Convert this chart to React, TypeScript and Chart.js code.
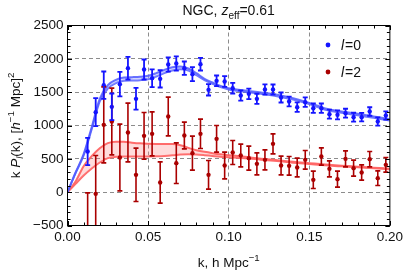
import React, { useEffect, useRef } from "react";
import { Chart, registerables } from "chart.js";
Chart.register(...registerables);

// ---------- data ----------
const kBins = [0.0125, 0.0175, 0.0225, 0.0275, 0.0325, 0.0375, 0.0425, 0.0475, 0.0525, 0.0575,
  0.0625, 0.0675, 0.0725, 0.0775, 0.0825, 0.0875, 0.0925, 0.0975, 0.1025, 0.1075,
  0.1125, 0.1175, 0.1225, 0.1275, 0.1325, 0.1375, 0.1425, 0.1475, 0.1525, 0.1575,
  0.1625, 0.1675, 0.1725, 0.1775, 0.1825, 0.1875, 0.1925, 0.1975];

const monoVals = [610, 1200, 1605, 1280, 1620, 1860, 1400, 1840, 1710, 1700,
  1915, 1930, 1860, 1770, 1920, 1535, 1670, 1660, 1560, 1450,
  1475, 1400, 1540, 1540, 1420, 1360, 1275, 1350, 1260, 1260,
  1170, 1160, 1185, 1125, 1125, 1210, 1060, 1150];
const monoErrs = [205, 210, 205, 200, 183, 170, 163, 150, 133, 130,
  108, 108, 100, 105, 95, 85, 80, 80, 80, 78,
  78, 76, 76, 75, 75, 73, 72, 72, 70, 70,
  68, 68, 66, 66, 64, 64, 62, 62];

const quadVals = [-650, -25, 1010, 1060, 520, 895, 260, 845, 875, 145,
  1135, 435, 850, 585, 875, 260, 800, 400, 595, 550,
  510, 425, 485, 725, 400, 395, 370, 485, 185, 535,
  350, 195, 500, 360, 295, 495, 210, 410];
const quadErrs = [640, 575, 570, 500, 500, 440, 400, 350, 330, 310,
  290, 305, 200, 255, 220, 215, 200, 200, 180, 170,
  180, 165, 150, 150, 140, 140, 140, 140, 130, 130,
  120, 120, 120, 120, 115, 115, 110, 110];

const modelK = [0, 0.005, 0.01, 0.015, 0.02, 0.025, 0.03, 0.035, 0.04, 0.045, 0.05,
  0.055, 0.06, 0.065, 0.07, 0.075, 0.08, 0.085, 0.09, 0.095, 0.1,
  0.11, 0.12, 0.13, 0.14, 0.15, 0.16, 0.17, 0.18, 0.19, 0.2];
const monoModelUpper = [0, 295, 570, 975, 1400, 1605, 1685, 1720, 1725, 1730, 1745,
  1785, 1835, 1875, 1885, 1855, 1785, 1700, 1645, 1595, 1560,
  1525, 1495, 1460, 1410, 1340, 1255, 1210, 1175, 1135, 1095];
const monoModelLower = [0, 285, 550, 945, 1360, 1555, 1635, 1670, 1675, 1680, 1695,
  1735, 1785, 1825, 1845, 1825, 1755, 1680, 1625, 1575, 1540,
  1505, 1475, 1440, 1390, 1320, 1235, 1190, 1155, 1115, 1075];
const quadModelUpper = [0, 160, 390, 540, 660, 735, 757, 755, 742, 732, 727,
  724, 722, 721, 705, 665, 630, 605, 585, 568, 555,
  530, 502, 480, 455, 435, 415, 398, 383, 368, 352];
const quadModelLower = [0, 125, 250, 355, 445, 510, 530, 535, 535, 535, 535,
  537, 542, 552, 565, 570, 565, 555, 543, 532, 525,
  510, 488, 467, 443, 423, 403, 387, 372, 357, 342];

const xTicks = [0, 0.05, 0.1, 0.15, 0.2];
const yTicks = [-500, 0, 500, 1000, 1500, 2000, 2500];
const xMinorStep = 0.01;
const yMinorStep = 100;

// ---------- styles ----------
const FONT = "'Liberation Sans', Arial, sans-serif";
const FS = 13.5;
const BLUE = "#1414ff";
const RED = "#aa0000";

type Part = { t: string; it?: boolean; sub?: boolean; sup?: boolean };

function drawRich(ctx: CanvasRenderingContext2D, parts: Part[], x: number, y: number, size: number) {
  const fontFor = (p: Part) => {
    const s = p.sub || p.sup ? size * 0.72 : size;
    return `${p.it ? "italic " : ""}${s}px ${FONT}`;
  };
  let total = 0;
  const widths = parts.map((p) => {
    ctx.font = fontFor(p);
    const w = ctx.measureText(p.t).width;
    total += w;
    return w;
  });
  let cx = x - total / 2;
  ctx.textAlign = "left";
  ctx.textBaseline = "alphabetic";
  parts.forEach((p, i) => {
    ctx.font = fontFor(p);
    const dy = p.sub ? size * 0.25 : p.sup ? -size * 0.42 : 0;
    ctx.fillText(p.t, cx, y + dy);
    cx += widths[i];
  });
}

const decorPlugin = {
  id: "decor",
  afterDatasetsDraw(chart: any) {
    const { ctx, chartArea: a, scales } = chart;
    const xs = scales.x, ys = scales.y;
    const bars = (vals: number[], errs: number[], color: string, lw: number) => {
      ctx.save();
      ctx.beginPath();
      ctx.rect(a.left, a.top, a.right - a.left, a.bottom - a.top);
      ctx.clip();
      ctx.strokeStyle = color;
      ctx.lineWidth = lw;
      for (let i = 0; i < kBins.length; i++) {
        const px = xs.getPixelForValue(kBins[i]);
        const y1 = ys.getPixelForValue(vals[i] + errs[i]);
        const y2 = ys.getPixelForValue(vals[i] - errs[i]);
        ctx.beginPath();
        ctx.moveTo(px, y1); ctx.lineTo(px, y2);
        ctx.moveTo(px - 2.5, y1); ctx.lineTo(px + 2.5, y1);
        ctx.moveTo(px - 2.5, y2); ctx.lineTo(px + 2.5, y2);
        ctx.stroke();
      }
      ctx.restore();
    };
    bars(quadVals, quadErrs, RED, 1.6);
    bars(monoVals, monoErrs, BLUE, 1.8);
  },
  afterDraw(chart: any) {
    const { ctx, chartArea: a, scales } = chart;
    const xs = scales.x, ys = scales.y;
    ctx.save();
    // frame
    ctx.strokeStyle = "#000";
    ctx.lineWidth = 1;
    ctx.strokeRect(a.left, a.top, a.right - a.left, a.bottom - a.top);
    // ticks inward
    ctx.beginPath();
    const nx = Math.round((xs.max - xs.min) / xMinorStep);
    for (let i = 0; i <= nx; i++) {
      const v = xs.min + i * xMinorStep;
      const px = Math.round(xs.getPixelForValue(v)) + 0.5;
      const len = i % 5 === 0 ? 4.5 : 3;
      ctx.moveTo(px, a.bottom); ctx.lineTo(px, a.bottom - len);
      ctx.moveTo(px, a.top); ctx.lineTo(px, a.top + len);
    }
    const ny = Math.round((ys.max - ys.min) / yMinorStep);
    for (let i = 0; i <= ny; i++) {
      const v = ys.min + i * yMinorStep;
      const py = Math.round(ys.getPixelForValue(v)) + 0.5;
      const len = i % 5 === 0 ? 4.5 : 3;
      ctx.moveTo(a.left, py); ctx.lineTo(a.left + len, py);
      ctx.moveTo(a.right, py); ctx.lineTo(a.right - len, py);
    }
    ctx.stroke();

    ctx.fillStyle = "#111";
    // title
    drawRich(ctx, [{ t: "NGC, " }, { t: "z", it: true }, { t: "eff", sub: true }, { t: "=0.61" }],
      (a.left + a.right) / 2, 15, 14);
    // x title
    drawRich(ctx, [{ t: "k, h Mpc" }, { t: "\u22121", sup: true }], (a.left + a.right) / 2, 267, 13.5);
    // y title
    ctx.save();
    ctx.translate(20, (a.top + a.bottom) / 2);
    ctx.rotate(-Math.PI / 2);
    drawRich(ctx, [
      { t: "k " }, { t: "P", it: true }, { t: "l", it: true, sub: true }, { t: "(k), [" },
      { t: "h", it: true }, { t: "\u22121", sup: true }, { t: " Mpc]" }, { t: "2", sup: true },
    ], 0, 0, 13.5);
    ctx.restore();

    // legend
    const leg = (cy: number, color: string, label: string) => {
      ctx.fillStyle = color;
      ctx.beginPath();
      ctx.arc(328, cy, 2.4, 0, Math.PI * 2);
      ctx.fill();
      ctx.fillStyle = "#111";
      ctx.textAlign = "left";
      ctx.textBaseline = "alphabetic";
      ctx.font = `italic 14px ${FONT}`;
      ctx.fillText("l", 341, cy + 5);
      const w = ctx.measureText("l").width;
      ctx.font = `14px ${FONT}`;
      ctx.fillText(label, 341 + w + 1, cy + 5);
    };
    leg(45, BLUE, "=0");
    leg(72, RED, "=2");
    ctx.restore();
  },
};

export default function App() {
  const ref = useRef<HTMLCanvasElement>(null);
  useEffect(() => {
    const pts = (xs: number[], ys: number[]) => xs.map((x, i) => ({ x, y: ys[i] }));
    const chart = new Chart(ref.current as HTMLCanvasElement, {
      type: "line",
      data: {
        datasets: [
          {
            data: pts(kBins, monoVals), showLine: false, pointRadius: 2.2,
            pointBackgroundColor: BLUE, pointBorderWidth: 0, order: 1,
          } as any,
          {
            data: pts(kBins, quadVals), showLine: false, pointRadius: 2.2,
            pointBackgroundColor: RED, pointBorderWidth: 0, order: 2,
          } as any,
          {
            data: pts(modelK, monoModelUpper), borderColor: "rgba(80,90,255,0.85)", borderWidth: 2,
            pointRadius: 0, cubicInterpolationMode: "monotone", fill: "+1",
            backgroundColor: "rgba(150,160,255,0.45)", order: 5,
          } as any,
          {
            data: pts(modelK, monoModelLower), borderColor: "rgba(80,90,255,0.85)", borderWidth: 2,
            pointRadius: 0, cubicInterpolationMode: "monotone", fill: false, order: 6,
          } as any,
          {
            data: pts(modelK, quadModelUpper), borderColor: "rgba(255,100,100,0.95)", borderWidth: 2,
            pointRadius: 0, cubicInterpolationMode: "monotone", fill: "+1",
            backgroundColor: "rgba(255,140,140,0.3)", order: 7,
          } as any,
          {
            data: pts(modelK, quadModelLower), borderColor: "rgba(255,100,100,0.95)", borderWidth: 2,
            pointRadius: 0, cubicInterpolationMode: "monotone", fill: false, order: 8,
          } as any,
        ],
      },
      options: {
        animation: false,
        responsive: false,
        events: [],
        layout: { padding: { top: 25.5, right: 16, left: 0, bottom: 0 } },
        plugins: { legend: { display: false }, tooltip: { enabled: false }, filler: { propagate: false } },
        scales: {
          x: {
            type: "linear", min: 0, max: 0.2,
            afterBuildTicks: (s: any) => { s.ticks = xTicks.map((v) => ({ value: v })); },
            afterFit: (s: any) => { s.height = 50.5; },
            ticks: {
              autoSkip: false, maxRotation: 0, padding: 4, color: "#111",
              font: { family: FONT, size: FS },
              callback: (v: any) => Number(v).toFixed(2),
            },
            grid: {
              drawTicks: false, lineWidth: 1,
              color: (c: any) => (c.tick && (c.tick.value <= 0.0001 || c.tick.value >= 0.1999) ? "rgba(0,0,0,0)" : "#8c8c8c"),
            },
            border: { display: false, dash: [4, 3] },
          },
          y: {
            type: "linear", min: -500, max: 2500,
            afterBuildTicks: (s: any) => { s.ticks = yTicks.map((v) => ({ value: v })); },
            afterFit: (s: any) => { s.width = 67.5; },
            ticks: {
              autoSkip: false, padding: 4, color: "#111",
              font: { family: FONT, size: FS },
              callback: (v: any) => (Number(v) < 0 ? "\u2212" + Math.abs(Number(v)) : String(v)),
            },
            grid: {
              drawTicks: false, lineWidth: 1,
              color: (c: any) => (c.tick && (c.tick.value <= -500 || c.tick.value >= 2500) ? "rgba(0,0,0,0)" : "#8c8c8c"),
            },
            border: { display: false, dash: [4, 3] },
          },
        },
      },
      plugins: [decorPlugin],
    });
    return () => chart.destroy();
  }, []);
  return (
    <div style={{ position: "absolute", left: 0, top: 0, width: 407, height: 276, background: "#fff" }}>
      <canvas ref={ref} width={407} height={276} style={{ display: "block" }} />
    </div>
  );
}
